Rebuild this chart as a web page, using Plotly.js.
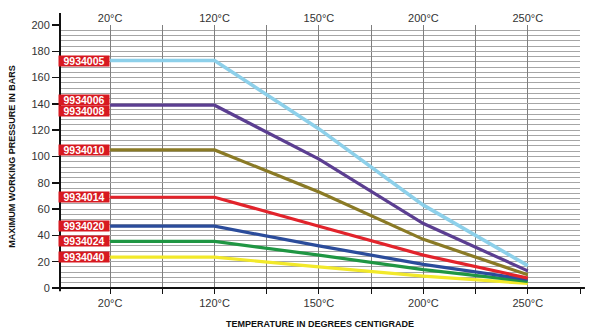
<!DOCTYPE html>
<html>
<head>
<meta charset="utf-8">
<script src="https://cdn.plot.ly/plotly-3.0.1.min.js"></script>
<style>html,body{margin:0;padding:0;background:#fff;}#chart{width:600px;height:329px;}</style>
</head>
<body>
<div id="chart"></div>
<script>
// Temperature categories (evenly spaced on the axis)
const tempLabels = ['20°C', '120°C', '150°C', '200°C', '250°C'];
const xPos = [0, 1, 2, 3, 4];
// half-step positions for gridlines / ticks
const gridPos = [0, 0.5, 1, 1.5, 2, 2.5, 3, 3.5, 4, 4.5];
const gridText = ['20°C', '', '120°C', '', '150°C', '', '200°C', '', '250°C', ''];

// Maximum working pressure (bars) per hose series
const p9934005 = [173, 173, 121, 63, 17];
const p9934006 = [139, 139, 98, 49, 13];
const p9934010 = [105, 105, 73, 37, 10];
const p9934014 = [69, 69, 47, 25, 7.5];
const p9934020 = [47, 47, 32, 18, 6.5];
const p9934024 = [35.5, 35.5, 25, 14, 5];
const p9934040 = [23.5, 23.5, 16, 9, 3.5];

const seriesValues = [p9934040, p9934024, p9934020, p9934014, p9934010, p9934006, p9934005];
const seriesNames = ['9934040', '9934024', '9934020', '9934014', '9934010', '9934006 / 9934008', '9934005'];
const seriesColors = ['#f2e92a', '#1f9643', '#2b4c9b', '#e2232b', '#8a7a25', '#5b3e91', '#8dd0ea'];

// Part-number labels (text, and which series value they sit on)
const labelTexts = ['9934005', '9934006', '9934008', '9934010', '9934014', '9934020', '9934024', '9934040'];
const labelSeries = [p9934005, p9934006, p9934006, p9934010, p9934014, p9934020, p9934024, p9934040];
const labelShift = [0, 5.5, -5.5, 0, 0, 0, 0, 0];

const traces = seriesValues.map((vals, i) => ({
  x: xPos, y: vals, type: 'scatter', mode: 'lines', name: seriesNames[i],
  line: {color: seriesColors[i], width: i === 6 ? 3.6 : 3.2}, hoverinfo: 'skip', showlegend: false
}));
// invisible trace to bring the top axis to life
traces.push({x: xPos, y: p9934005, xaxis: 'x2', type: 'scatter', mode: 'lines',
  line: {width: 0}, opacity: 0, hoverinfo: 'skip', showlegend: false});

const tickFont = {family: 'Liberation Sans, Arial, sans-serif', size: 11, color: '#333'};

const annotations = labelTexts.map((t, i) => ({
  xref: 'x', yref: 'y', x: 0, y: labelSeries[i][0], xanchor: 'right', yanchor: 'middle',
  yshift: labelShift[i], text: t, showarrow: false,
  font: {family: 'Liberation Sans, Arial, sans-serif', size: 10.5, color: '#fff', weight: 'bold'},
  bgcolor: '#d71920', width: 49, height: 9, borderpad: 0.5, align: 'center'
}));

const layout = {
  width: 600, height: 329,
  margin: {l: 60, r: 20, t: 25, b: 41},
  paper_bgcolor: '#fff', plot_bgcolor: '#fff',
  showlegend: false,
  xaxis: {
    type: 'linear', range: [-0.48, 4.5],
    tickmode: 'array', tickvals: gridPos, ticktext: gridText,
    ticks: 'outside', ticklen: 5, tickwidth: 1, tickcolor: '#111',
    showgrid: true, gridcolor: '#7f7f7f', gridwidth: 1,
    zeroline: false, showline: false,
    tickfont: tickFont,
    title: {text: 'TEMPERATURE IN DEGREES CENTIGRADE', standoff: 14,
      font: {family: 'Liberation Sans, Arial, sans-serif', size: 9, color: '#111', weight: 'bold'}}
  },
  xaxis2: {
    overlaying: 'x', side: 'top', matches: 'x',
    tickmode: 'array', tickvals: xPos, ticktext: tempLabels,
    ticks: '', showgrid: false, zeroline: false, showline: false,
    tickfont: tickFont
  },
  yaxis: {
    range: [0, 200], tickmode: 'linear', tick0: 0, dtick: 20,
    ticks: 'outside', ticklen: 7, tickwidth: 1.5, tickcolor: '#111',
    showgrid: true, gridcolor: '#a6a6a6', gridwidth: 1,
    minor: {dtick: 4, showgrid: true, gridcolor: '#a6a6a6', gridwidth: 1, ticks: ''},
    zeroline: false, showline: false,
    tickfont: tickFont,
    title: {text: 'MAXIMUM WORKING PRESSURE IN BARS', standoff: 14,
      font: {family: 'Liberation Sans, Arial, sans-serif', size: 9, color: '#111', weight: 'bold'}}
  },
  shapes: [
    {type: 'line', xref: 'paper', yref: 'paper', x0: 0, x1: 0, y0: -0.012, y1: 1.046,
      line: {color: '#111', width: 2}},
    {type: 'line', xref: 'paper', yref: 'paper', x0: 0, x1: 1.0095, y0: 0, y1: 0,
      line: {color: '#111', width: 2}}
  ],
  annotations: annotations
};

Plotly.newPlot('chart', traces, layout, {displayModeBar: false, staticPlot: true});
</script>
</body>
</html>
